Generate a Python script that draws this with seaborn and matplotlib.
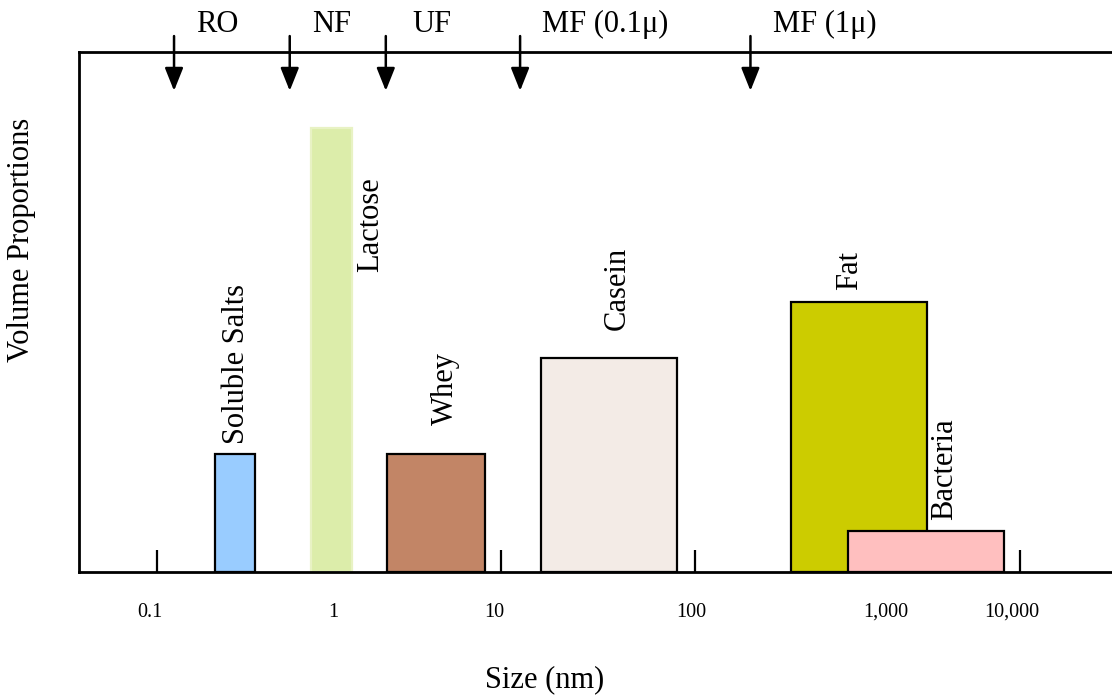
import matplotlib
matplotlib.use("Agg")
import matplotlib.pyplot as plt
import matplotlib.transforms as mtransforms
import seaborn as sns

# -------------------------------------------------------
# Data (schematic diagram units: x 0-100 along the axis, y 0-100 volume share)
# -------------------------------------------------------
components = ["Soluble Salts", "Lactose", "Whey", "Casein", "Fat", "Bacteria"]
bar_left = [13.2, 22.5, 29.8, 44.7, 68.9, 74.4]
bar_right = [17.0, 26.4, 39.3, 57.9, 82.1, 89.5]
volume = [22.7, 85.4, 22.7, 41.2, 51.9, 7.9]
colors = ["#99ccff", "#dcedaa", "#c28566", "#f3ebe6", "#cccc00", "#ffbfbf"]
edges = ["black", "#e8f2c4", "black", "black", "black", "black"]

size_ticks = [7.55, 26.1, 40.9, 59.6, 82.1, 91.1]
size_labels = ["0.1", "1", "10", "100", "1,000", "10,000"]
size_label_pos = [6.9, 24.6, 40.2, 59.3, 78.1, 90.3]

filters = ["RO", "NF", "UF", "MF (0.1\u03bc)", "MF (1\u03bc)"]
filter_cutoff = [9.2, 20.4, 29.7, 42.7, 65.0]
filter_label_pos = [13.4, 24.5, 34.2, 50.9, 72.2]

# label anchors for the rotated component names
label_x = [15.2, 28.2, 35.5, 52.1, 74.6, 83.8]
label_y = [24.6, 57.7, 28.3, 46.5, 54.2, 10.0]

sns.set_theme(style="white")
plt.rcParams["font.family"] = ["Liberation Serif", "DejaVu Serif"]
plt.rcParams["text.color"] = "black"

fig = plt.figure(figsize=(11.12, 6.96), dpi=100)
ax = fig.add_axes([79 / 1112, 124 / 696, 1033 / 1112, 520 / 696])

# bars, one histogram bin each
for l, r, v, c, e in zip(bar_left, bar_right, volume, colors, edges):
    sns.histplot(x=[(l + r) / 2], weights=[v], bins=[l, r], color=c,
                 edgecolor=e, linewidth=1.6, alpha=1, ax=ax, zorder=2)

ax.set_xlim(0, 100)
ax.set_ylim(0, 100)
ax.set_xlabel("")
ax.set_ylabel("")
ax.set_yticks([])

# small ticks pointing inward, labels drawn separately
ax.set_xticks(size_ticks)
ax.set_xticklabels([])
ax.tick_params(axis="x", direction="in", length=15.5, width=1.6, color="black",
               bottom=True)
trans = mtransforms.blended_transform_factory(ax.transData, ax.transAxes)
for xp, lab in zip(size_label_pos, size_labels):
    ax.text(xp, -0.077, lab, transform=trans, ha="center", va="center",
            fontsize=14.5, color="black")

for side in ["left", "top", "bottom"]:
    ax.spines[side].set_color("black")
    ax.spines[side].set_linewidth(2)
ax.spines["right"].set_visible(False)

# component labels
for name, xp, yp in zip(components, label_x, label_y):
    ax.text(xp, yp, name, rotation=90, ha="center", va="bottom", fontsize=22,
            color="black")

# membrane cut-off arrows
for xp in filter_cutoff:
    ax.annotate("", xy=(xp, 92.0), xytext=(xp, 103.6),
                arrowprops=dict(arrowstyle="-|>,head_length=1.0,head_width=0.4",
                                color="black", lw=1.8, mutation_scale=14),
                annotation_clip=False)
for xp, lab in zip(filter_label_pos, filters):
    ax.text(xp, 105.3, lab, ha="center", va="center", fontsize=22,
            color="black", clip_on=False)

fig.text(22 / 1112, 0.655, "Volume Proportions", rotation=90, ha="center",
         va="center", fontsize=22, color="black")
fig.text(545 / 1112, 16 / 696, "Size (nm)", ha="center", va="center",
         fontsize=22, color="black")

fig.savefig("out.png", dpi=100)
